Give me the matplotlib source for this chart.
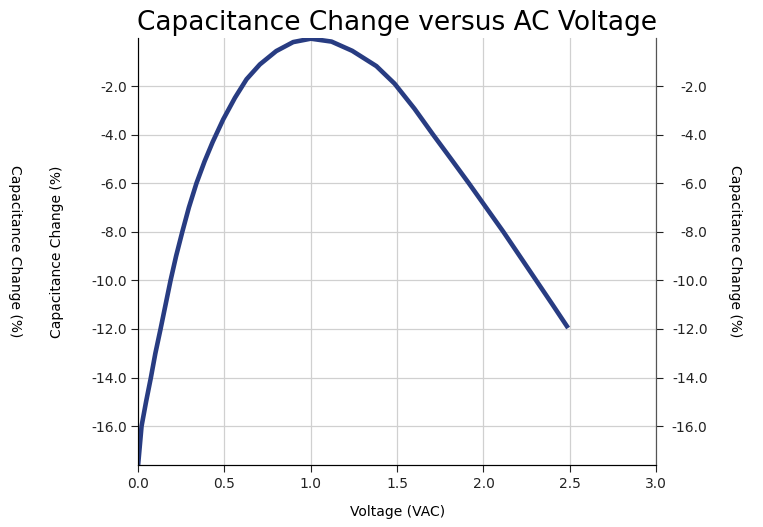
import matplotlib
matplotlib.use("Agg")
import matplotlib.pyplot as plt
from matplotlib.ticker import FormatStrFormatter

# values
voltage = [0.0, 0.02, 0.046, 0.074, 0.10, 0.13, 0.188, 0.22, 0.256, 0.294,
           0.338, 0.385, 0.432, 0.493, 0.561, 0.628, 0.705, 0.80, 0.898, 1.00,
           1.12, 1.24, 1.38, 1.485, 1.60, 1.708, 1.812, 1.915, 2.015, 2.115,
           2.21, 2.305, 2.40, 2.49]
cap_change = [-17.6, -16.0, -15.0, -14.0, -13.0, -12.0, -10.0, -9.0, -8.0, -7.0,
              -6.0, -5.1, -4.3, -3.37, -2.48, -1.72, -1.11, -0.56, -0.19, -0.05,
              -0.17, -0.55, -1.18, -1.9, -2.93, -4.0, -5.0, -6.0, -7.0, -8.0,
              -9.0, -10.0, -11.0, -11.96]

x_ticks = [0.0, 0.5, 1.0, 1.5, 2.0, 2.5, 3.0]
y_ticks = [-2.0, -4.0, -6.0, -8.0, -10.0, -12.0, -14.0, -16.0]

title = "Capacitance Change versus AC Voltage"
ylabel = "Capacitance Change (%)"
xlabel = "Voltage (VAC)"

fig = plt.figure(figsize=(7.63, 5.27), dpi=100)
ax = fig.add_axes([0.181, 0.1176, 0.679, 0.8104])

ax.plot(voltage, cap_change, color="#283c82", linewidth=3.3,
        solid_capstyle="butt", solid_joinstyle="round")

ax.set_xlim(0, 3.0)
ax.set_ylim(-17.6, -0.02)
ax.set_xticks(x_ticks)
ax.set_yticks(y_ticks)
ax.xaxis.set_major_formatter(FormatStrFormatter("%.1f"))
ax.yaxis.set_major_formatter(FormatStrFormatter("%.1f"))
ax.grid(True, color="#d0d0d0", linewidth=0.9)
ax.set_axisbelow(True)

ax.spines["top"].set_visible(False)
ax.spines["left"].set_color("#555555")
ax.spines["right"].set_color("#555555")
ax.tick_params(axis="both", labelsize=10, length=5, colors="#222222")
ax.tick_params(axis="y", pad=3)

# mirrored axis on the right, labels right-aligned like the reference
ax2 = ax.twinx()
ax2.set_ylim(ax.get_ylim())
ax2.set_yticks(y_ticks)
ax2.yaxis.set_major_formatter(FormatStrFormatter("%.1f"))
ax2.tick_params(axis="y", labelsize=10, length=5, pad=32, colors="#222222")
for lbl in ax2.get_yticklabels():
    lbl.set_horizontalalignment("right")
ax2.spines["top"].set_visible(False)
ax2.spines["right"].set_color("#555555")

ax.set_title(title, fontsize=19, pad=6)
ax.set_xlabel(xlabel, fontsize=10, labelpad=10)
ax.set_ylabel(ylabel, fontsize=10)
ax2.set_ylabel(ylabel, fontsize=10, rotation=270)
ax2.yaxis.set_label_coords(1.165, 0.5)
ax.yaxis.set_label_coords(-0.143, 0.5)

fig.text(15 / 763, 0.523, ylabel, rotation=270, fontsize=10,
         ha="center", va="center")

fig.savefig("out.png", dpi=100)
